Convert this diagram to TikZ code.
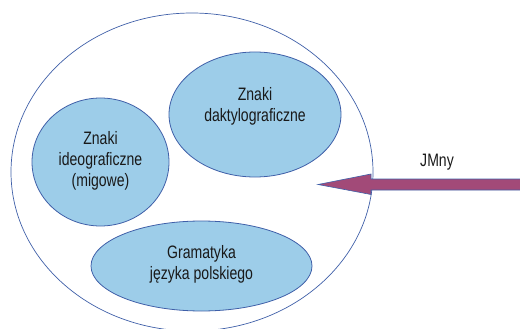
\documentclass[tikz,border=0pt]{standalone}
\usepackage{fontspec}
\setmainfont[FakeStretch=0.78]{Liberation Sans}
\usetikzlibrary{shapes.geometric}
\definecolor{fillblue}{HTML}{9DCDE9}
\definecolor{lineblue}{HTML}{3F5FA8}
\definecolor{arrowpurple}{HTML}{A24A78}
\begin{document}
\begin{tikzpicture}[x=1pt,y=-1pt,
  inner/.style={ellipse,draw=lineblue,line width=0.8pt,fill=fillblue,inner sep=0pt},
  lbl/.style={align=center,inner sep=0pt,font=\fontsize{18}{20.8}\selectfont,text=black!90}]
\useasboundingbox (0,0) rectangle (520,329);
\node[ellipse,draw=lineblue,line width=0.7pt,minimum width=362pt,minimum height=318pt,inner sep=0pt] (outer) at (192,172) {};
\node[inner,minimum width=137pt,minimum height=128pt] (ideo) at (100.5,162) {};
\node[inner,minimum width=172pt,minimum height=125pt] (dakt) at (255,114.5) {};
\node[inner,minimum width=221pt,minimum height=90pt] (gram) at (201.5,266) {};
\node[lbl] (ideot) at ([yshift=1pt]ideo.center) {Znaki\\ideograficzne\\(migowe)};
\node[lbl] (daktt) at ([yshift=8.5pt]dakt.center) {Znaki\\daktylograficzne};
\node[lbl] (gramt) at ([yshift=1.5pt]gram.center) {Gramatyka\\języka polskiego};
\coordinate (tip) at (318,184.5);
\coordinate (tail) at (521,184.5);
\node[lbl] (jmny) at (437,162) {JMny};
\draw[draw=lineblue,line width=0.6pt,fill=arrowpurple]
  (tip) -- ([shift={(53,-10.5)}]tip) -- ([shift={(53,-5.5)}]tip) -- ([shift={(0,-5.5)}]tail)
  -- ([shift={(0,5.5)}]tail) -- ([shift={(53,5.5)}]tip) -- ([shift={(53,10)}]tip) -- cycle;
\end{tikzpicture}
\end{document}
